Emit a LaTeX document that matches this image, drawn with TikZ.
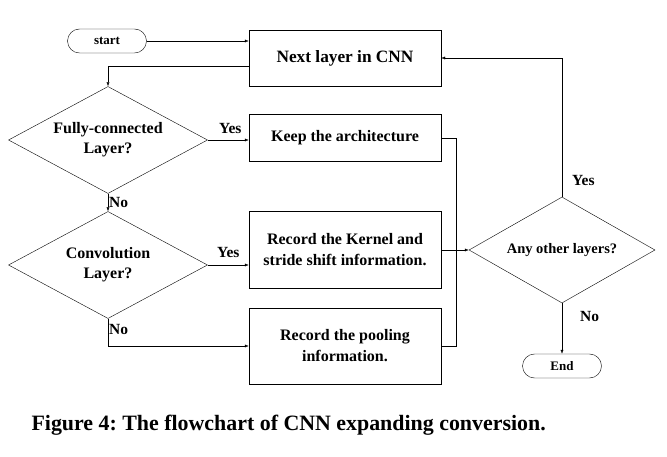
\documentclass[tikz,border=0pt]{standalone}
\usepackage{fontspec}
\setmainfont{Liberation Serif}
\usetikzlibrary{shapes.geometric,arrows.meta}
\frenchspacing
\tikzset{
    process-box/.style = {draw, thin, rectangle, minimum width=192pt, align=center, font=\bfseries\fontsize{16}{21}\selectfont},
    decision/.style = {draw, thin, diamond, aspect=1.86, minimum width=199pt, minimum height=107pt, inner sep=0pt, align=center, font=\bfseries\fontsize{16}{20}\selectfont},
    terminal/.style = {draw, thin, rectangle, rounded corners=12pt, minimum width=79pt, minimum height=24pt, font=\bfseries\fontsize{13}{15}\selectfont},
    flow/.style = {draw, thin, -{Latex[length=4pt,width=3pt]}},
    flow-label/.style = {font=\bfseries\fontsize{15.5}{17}\selectfont, inner sep=1pt},
}

\begin{document}
\begin{tikzpicture}[x=1pt,y=-1pt]
\useasboundingbox (0,0) rectangle (667,457);
% left column
\node [terminal] (start) at (107,41) {start};
\node [decision] (fc) at (108,140) {Fully-connected\\Layer?};
\node [decision] (conv) at (108,265) {Convolution\\Layer?};
% middle column
\node [process-box, minimum height=56pt, font=\bfseries\fontsize{17.3}{20}\selectfont] (next) at (345,58) {Next layer in CNN};
\node [process-box, minimum height=47pt] (keep) at (345,138) {Keep the architecture};
\node [process-box, minimum height=77pt] (kernel) at (345,250) {Record the Kernel and\\stride shift information.};
\node [process-box, minimum height=76pt] (pool) at (345,346) {Record the pooling\\information.};
% right column
\node [decision, aspect=1.75, minimum width=186pt, minimum height=106pt, font=\bfseries\fontsize{14.5}{17}\selectfont] (other) at (562,250) {Any other layers?};
\node [terminal] (end) at (562,366) {End};
\coordinate (merge) at (456,250);

\draw [flow] (start.east) -- (start.east -| next.west);
\draw [flow] ([yshift=-8pt]next.west) -| (fc.north);
\draw [flow] (fc.east) -- node[flow-label, above=5pt, pos=0.55]{Yes} (fc.east -| keep.west);
\draw [flow] (fc.south) -- node[flow-label, right]{No} (conv.north);
\draw [flow] (conv.east) -- node[flow-label, above=6pt, pos=0.5]{Yes} (conv.east -| kernel.west);
\draw [flow] (conv.south) |- node[flow-label, right, pos=0.2]{No} (pool.west);
\draw (keep.east) -| (merge);
\draw (pool.east) -| (merge);
\draw [flow] (kernel.east) -- (other.west);
\draw [flow] (other.north) |- node[flow-label, right=9pt, pos=0.06]{Yes} (next.east);
\draw [flow] (other.south) -- node[flow-label, right=17pt, pos=0.26]{No} (end.north);

\node [anchor=west, font=\bfseries\fontsize{21.9}{25}\selectfont] (caption) at (28,425) {Figure 4: The flowchart of CNN expanding conversion.};
\end{tikzpicture}
\end{document}
